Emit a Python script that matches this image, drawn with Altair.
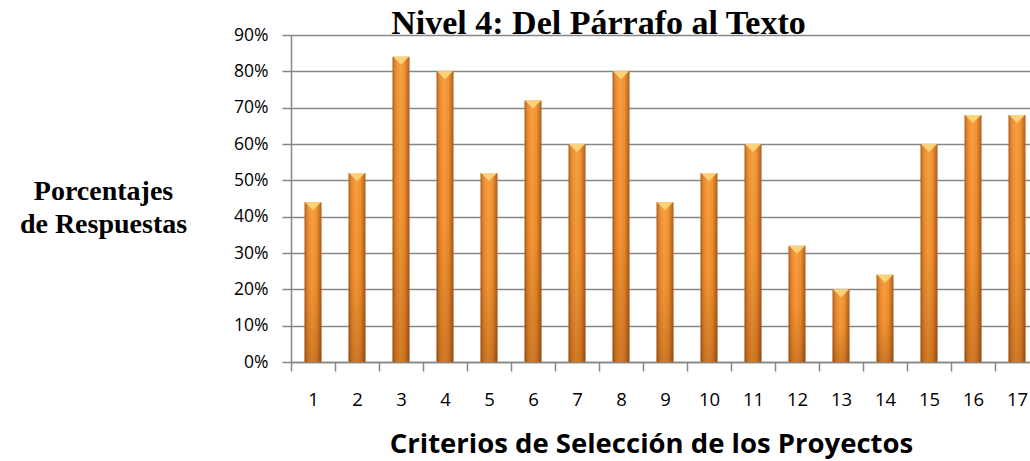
import altair as alt
import pandas as pd

criterios = [str(i) for i in range(1, 18)]
porcentajes = [0.44, 0.52, 0.84, 0.80, 0.52, 0.72, 0.60, 0.80, 0.44,
               0.52, 0.60, 0.32, 0.20, 0.24, 0.60, 0.68, 0.68]
y_ticks = [0.0, 0.1, 0.2, 0.3, 0.4, 0.5, 0.6, 0.7, 0.8, 0.9]

df = pd.DataFrame({"criterio": criterios, "pct": porcentajes})

GRAY = "#878787"

x_enc = alt.X(
    "criterio:N",
    sort=criterios,
    scale=alt.Scale(range=[0, 748], paddingInner=0, paddingOuter=0),
    axis=alt.Axis(
        title="Criterios de Selección de los Proyectos",
        titleFont="Open Sans", titleFontSize=27.5, titleFontWeight="bold",
        titleColor="black", titleX=360, titleY=90, titleAlign="center",
        titleBaseline="alphabetic", titleAnchor="start",
        labelAngle=0, labelFont="Open Sans", labelFontSize=18.5, labelColor="black",
        labelPadding=19, tickBand="extent", tickSize=9, tickColor=GRAY,
        tickWidth=1.5, domainColor=GRAY, domainWidth=1.5, grid=False,
    ),
)

y_enc = alt.Y(
    "pct:Q",
    scale=alt.Scale(domain=[0, 0.9], nice=False),
    axis=alt.Axis(
        values=y_ticks, format=".0%",
        title=["Porcentajes", "de Respuestas"],
        titleFont="Liberation Serif", titleFontSize=28, titleFontWeight="bold",
        titleColor="black", titleAngle=0, titleX=-188, titleY=164,
        titleAlign="center", titleBaseline="alphabetic", titleLineHeight=33,
        labelFont="Open Sans", labelFontSize=17.5, labelColor="black",
        labelPadding=14, tickSize=9, tickColor=GRAY, tickWidth=1.5,
        domainColor=GRAY, domainWidth=1.5,
        grid=True, gridColor=GRAY, gridWidth=1.5,
    ),
)

h_grad = alt.Gradient(
    gradient="linear", x1=0, x2=1, y1=0, y2=0,
    stops=[
        alt.GradientStop(color="#a85a18", offset=0),
        alt.GradientStop(color="#e98a2e", offset=0.2),
        alt.GradientStop(color="#f99c3a", offset=0.45),
        alt.GradientStop(color="#f0902f", offset=0.7),
        alt.GradientStop(color="#a45616", offset=1),
    ],
)
v_grad = alt.Gradient(
    gradient="linear", x1=0, x2=0, y1=0, y2=1,
    stops=[
        alt.GradientStop(color="rgba(255,200,120,0.1)", offset=0),
        alt.GradientStop(color="rgba(140,60,0,0.05)", offset=0.5),
        alt.GradientStop(color="rgba(110,45,0,0.3)", offset=1),
    ],
)

base = alt.Chart(df).encode(x=x_enc, y=y_enc)

bars = base.mark_bar(size=17, color=h_grad)
shade = base.mark_bar(size=17, color=v_grad)
caps = base.mark_point(
    shape="M-1,0L1,0L0,1Z", size=256, filled=True,
    color="#fcd27a", opacity=1, strokeWidth=0,
)

chart = (
    alt.layer(bars, shade, caps)
    .properties(
        width=739, height=327,
        autosize=alt.AutoSizeParams(type="none"),
        padding={"left": 291, "top": 35, "right": 0, "bottom": 99},
        title=alt.TitleParams(
            "Nivel 4: Del Párrafo al Texto",
            font="Liberation Serif", fontSize=34, fontWeight="bold",
            color="black", anchor="middle", dx=-62, dy=42, offset=0,
            baseline="alphabetic",
        ),
    )
    .configure_view(strokeWidth=0)
    .configure(background="white")
)

chart.save("out.html", embed_options={"renderer": "svg", "actions": False})
